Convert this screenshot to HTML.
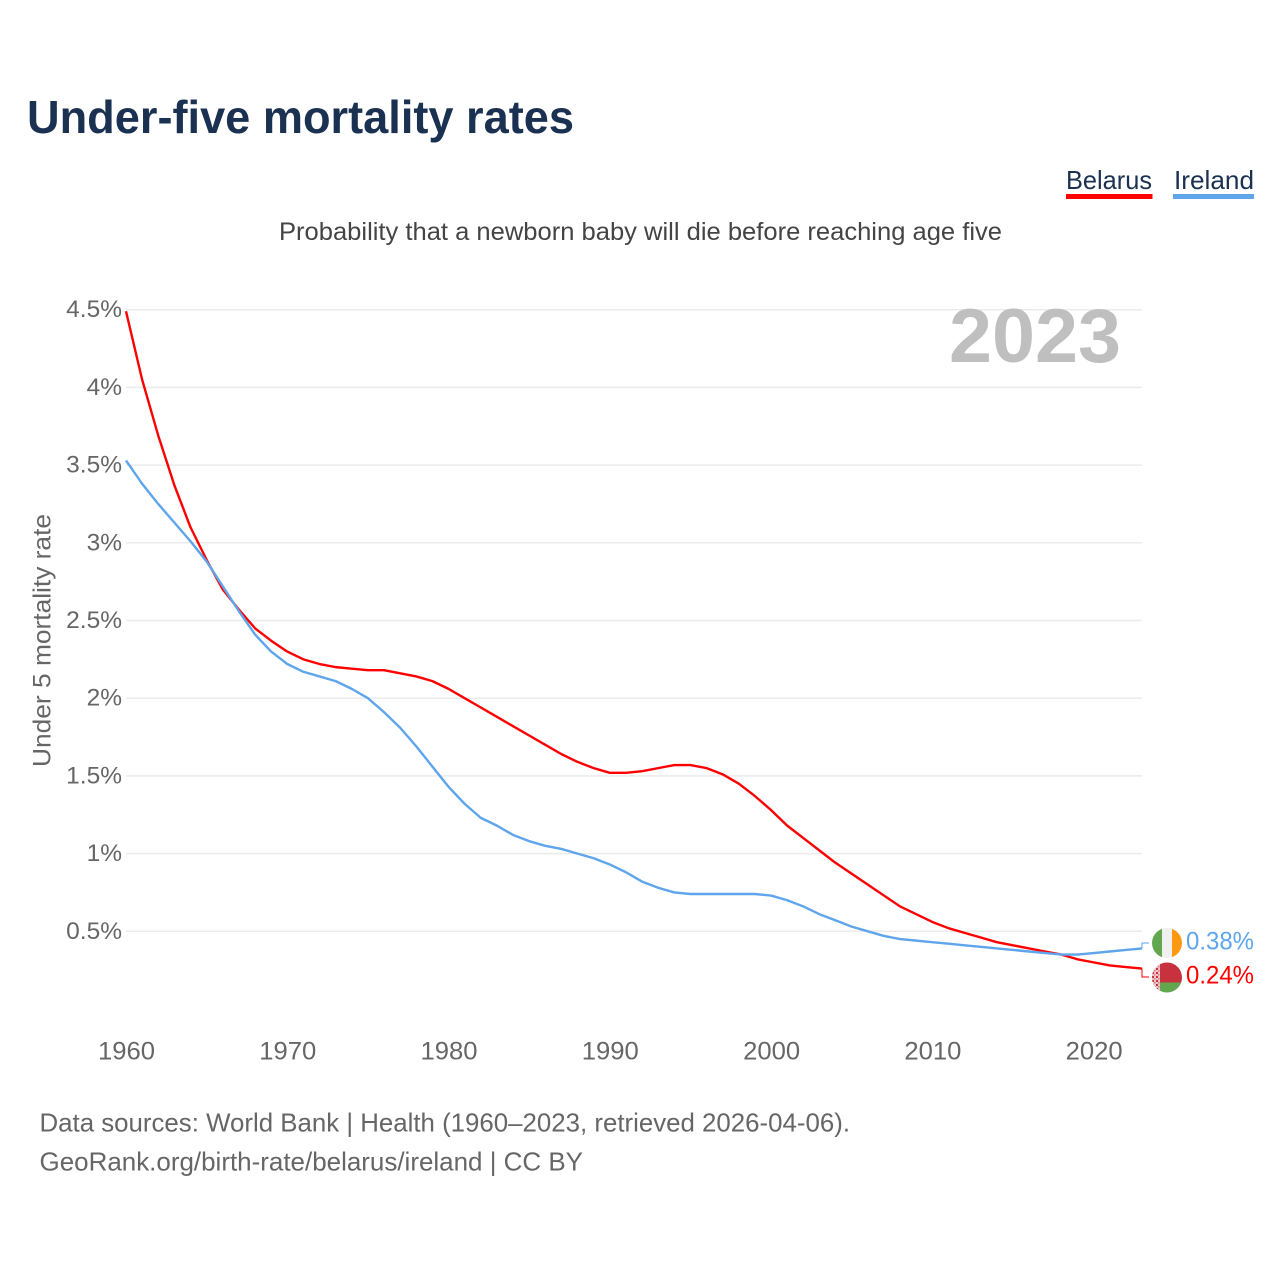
<!DOCTYPE html>
<html lang="en">
<head>
<meta charset="utf-8">
<title>Under-five mortality rates</title>
<style>
html,body{margin:0;padding:0;background:#fff;}
svg{display:block;}
text{font-family:"Liberation Sans",sans-serif;}
</style>
</head>
<body>
<svg id="chart" xmlns="http://www.w3.org/2000/svg" width="1280" height="1280" viewBox="0 0 1280 1280">
  <rect x="0" y="0" width="1280" height="1280" fill="#ffffff"/>
  <text x="27" y="133" font-size="46" font-weight="700" fill="#1a3152" textLength="547" lengthAdjust="spacingAndGlyphs">Under-five mortality rates</text>
  <text x="279" y="240" font-size="25" fill="#444444" textLength="723" lengthAdjust="spacingAndGlyphs">Probability that a newborn baby will die before reaching age five</text>

  <g>
    <g>
      <text x="1066" y="189" font-size="26" fill="#1a3152" textLength="86" lengthAdjust="spacingAndGlyphs">Belarus</text>
      <rect x="1066" y="194" width="86.5" height="5" fill="#ff0000"/>
    </g>
    <g>
      <text x="1174" y="189" font-size="26" fill="#1a3152" textLength="80" lengthAdjust="spacingAndGlyphs">Ireland</text>
      <rect x="1173" y="194" width="81" height="5" fill="#5ea5ec"/>
    </g>
  </g>

  <g id="grid"></g>
  <g id="yticks"></g>
  <g id="xticks"></g>

  <text transform="translate(50.5,640.5) rotate(-90)" text-anchor="middle" font-size="25" fill="#666666" textLength="253" lengthAdjust="spacingAndGlyphs">Under 5 mortality rate</text>
  <text x="949" y="362" font-size="76" font-weight="700" fill="#bfbfbf" textLength="172" lengthAdjust="spacingAndGlyphs">2023</text>

  <g id="series"></g>

  <defs>
    <clipPath id="clip-ie"><circle cx="1167" cy="943" r="15"/></clipPath>
    <clipPath id="clip-by"><circle cx="1167" cy="977.5" r="15"/></clipPath>
    <pattern id="by-orn" width="4" height="4" patternUnits="userSpaceOnUse">
      <rect width="4" height="4" fill="#ecc8cc"/>
      <rect x="0" y="0" width="2" height="2" fill="#c8313e"/>
      <rect x="2" y="2" width="1.5" height="1.5" fill="#d77a84"/>
    </pattern>
  </defs>
  <g clip-path="url(#clip-ie)">
    <rect x="1152" y="928" width="10" height="30" fill="#62a64f"/>
    <rect x="1162" y="928" width="10" height="30" fill="#f0f0f0"/>
    <rect x="1172" y="928" width="10" height="30" fill="#ff9811"/>
  </g>
  <g clip-path="url(#clip-by)">
    <rect x="1152" y="962" width="30" height="20.5" fill="#c8313e"/>
    <rect x="1152" y="982.5" width="30" height="11" fill="#62a64f"/>
    <rect x="1152" y="962" width="8" height="31" fill="url(#by-orn)"/>
  </g>
  <text x="1186" y="949.5" font-size="25" fill="#5ea5ec" textLength="68" lengthAdjust="spacingAndGlyphs">0.38%</text>
  <text x="1186" y="983.5" font-size="25" fill="#ff0000" textLength="68" lengthAdjust="spacingAndGlyphs">0.24%</text>

  <text x="39.5" y="1131.5" font-size="26" fill="#666666" textLength="810.5" lengthAdjust="spacingAndGlyphs">Data sources: World Bank | Health (1960–2023, retrieved 2026-04-06).</text>
  <text x="39.5" y="1170.5" font-size="26" fill="#666666" textLength="543.5" lengthAdjust="spacingAndGlyphs">GeoRank.org/birth-rate/belarus/ireland | CC BY</text>
</svg>
<script>
const firstYear = 1960;
const belarusValues = [4.49,4.05,3.69,3.37,3.10,2.89,2.70,2.57,2.45,2.37,2.30,2.25,2.22,2.20,2.19,2.18,2.18,2.16,2.14,2.11,2.06,2.00,1.94,1.88,1.82,1.76,1.70,1.64,1.59,1.55,1.52,1.52,1.53,1.55,1.57,1.57,1.55,1.51,1.45,1.37,1.28,1.18,1.10,1.02,0.94,0.87,0.80,0.73,0.66,0.61,0.56,0.52,0.49,0.46,0.43,0.41,0.39,0.37,0.35,0.32,0.30,0.28,0.27,0.26];
const irelandValues = [3.53,3.38,3.25,3.13,3.01,2.88,2.72,2.56,2.41,2.30,2.22,2.17,2.14,2.11,2.06,2.00,1.91,1.81,1.69,1.56,1.43,1.32,1.23,1.18,1.12,1.08,1.05,1.03,1.00,0.97,0.93,0.88,0.82,0.78,0.75,0.74,0.74,0.74,0.74,0.74,0.73,0.70,0.66,0.61,0.57,0.53,0.50,0.47,0.45,0.44,0.43,0.42,0.41,0.40,0.39,0.38,0.37,0.36,0.35,0.35,0.36,0.37,0.38,0.39];
const yTickValues = [0.5,1,1.5,2,2.5,3,3.5,4,4.5];
const yTickLabels = ["0.5%","1%","1.5%","2%","2.5%","3%","3.5%","4%","4.5%"];
const xTickYears = [1960,1970,1980,1990,2000,2010,2020];

const NS = 'http://www.w3.org/2000/svg';
function x(year){ return 126 + (year - 1960) * (1142 - 126) / 63; }
function y(value){ return 1009 - value * 155.4; }

const grid = document.getElementById('grid');
const yticks = document.getElementById('yticks');
const xticks = document.getElementById('xticks');
const series = document.getElementById('series');

yTickValues.forEach(function(v, i){
  const line = document.createElementNS(NS, 'line');
  
  
  line.setAttribute('x1', 126);
  line.setAttribute('x2', 1142);
  line.setAttribute('y1', y(v));
  line.setAttribute('y2', y(v));
  line.setAttribute('stroke', '#ebebeb');
  line.setAttribute('stroke-width', '1.5');
  grid.appendChild(line);

  const t = document.createElementNS(NS, 'text');
  
  
  t.setAttribute('x', 122);
  t.setAttribute('y', y(v) + 7.5);
  t.setAttribute('text-anchor', 'end');
  t.setAttribute('font-size', '24.5');
  t.setAttribute('fill', '#666666');
  t.textContent = yTickLabels[i];
  yticks.appendChild(t);
});

xTickYears.forEach(function(yr){
  const t = document.createElementNS(NS, 'text');
  
  
  t.setAttribute('x', x(yr) + 0.5);
  t.setAttribute('y', 1059.5);
  t.setAttribute('text-anchor', 'middle');
  t.setAttribute('font-size', '25');
  t.setAttribute('fill', '#666666');
  t.setAttribute('textLength', '57');
  t.setAttribute('lengthAdjust', 'spacingAndGlyphs');
  t.textContent = String(yr);
  xticks.appendChild(t);
});

function toPoints(values){
  return values.map(function(v, i){
    return x(firstYear + i).toFixed(2) + ',' + y(v).toFixed(2);
  }).join(' ');
}

const belarusLine = document.createElementNS(NS, 'polyline');


belarusLine.setAttribute('points', toPoints(belarusValues));
belarusLine.setAttribute('fill', 'none');
belarusLine.setAttribute('stroke', '#ff0000');
belarusLine.setAttribute('stroke-width', '2.4');
belarusLine.setAttribute('stroke-linejoin', 'round');
series.appendChild(belarusLine);

const irelandLine = document.createElementNS(NS, 'polyline');


irelandLine.setAttribute('points', toPoints(irelandValues));
irelandLine.setAttribute('fill', 'none');
irelandLine.setAttribute('stroke', '#5ea5ec');
irelandLine.setAttribute('stroke-width', '2.4');
irelandLine.setAttribute('stroke-linejoin', 'round');
series.appendChild(irelandLine);

const endX = x(firstYear + belarusValues.length - 1);

const belarusConnector = document.createElementNS(NS, 'polyline');


belarusConnector.setAttribute('points', endX + ',' + y(belarusValues[belarusValues.length - 1]) + ' ' + endX + ',977 1149,977');
belarusConnector.setAttribute('fill', 'none');
belarusConnector.setAttribute('stroke', '#ff0000');
belarusConnector.setAttribute('stroke-width', '1');
series.appendChild(belarusConnector);

const irelandConnector = document.createElementNS(NS, 'polyline');


irelandConnector.setAttribute('points', endX + ',' + y(irelandValues[irelandValues.length - 1]) + ' ' + endX + ',943 1149,943');
irelandConnector.setAttribute('fill', 'none');
irelandConnector.setAttribute('stroke', '#5ea5ec');
irelandConnector.setAttribute('stroke-width', '1');
series.appendChild(irelandConnector);
</script>
</body>
</html>
